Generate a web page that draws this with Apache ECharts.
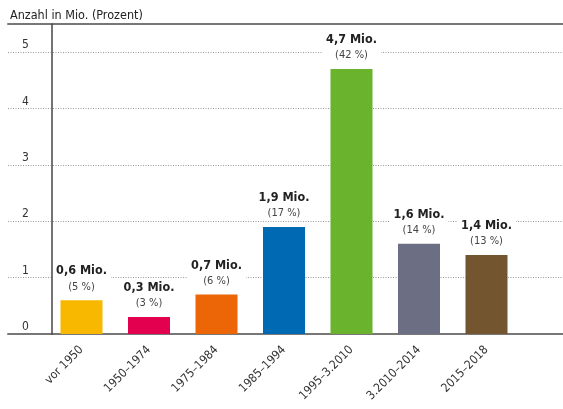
<!DOCTYPE html>
<html>
<head>
<meta charset="utf-8">
<script src="https://cdn.jsdelivr.net/npm/echarts@6/dist/echarts.min.js"></script>
<style>
  html, body { margin: 0; padding: 0; background: #fff; }
  #chart { width: 563px; height: 409px; }
</style>
</head>
<body>
<div id="chart"></div>
<script>
// Zeiträume (Baujahre) und Werte
const categories = ['vor 1950', '1950–1974', '1975–1984', '1985–1994', '1995–3.2010', '3.2010–2014', '2015–2018'];
const valuesMio = [0.6, 0.3, 0.7, 1.9, 4.7, 1.6, 1.4];
const percents = [5, 3, 6, 17, 42, 14, 13];
const barColors = ['#F9B800', '#E2004F', '#EC6608', '#0069B4', '#6AB42D', '#6C6E84', '#735630'];
const yTicks = [0, 1, 2, 3, 4, 5];

const FONT = '"DejaVu Sans Condensed", "Liberation Sans Narrow", "Noto Sans", sans-serif';
const chart = echarts.init(document.getElementById('chart'), null, { renderer: 'canvas' });

const fmt = v => String(v).replace('.', ',');

chart.setOption({
  animation: false,
  backgroundColor: '#fff',
  textStyle: { fontFamily: FONT },
  title: {
    text: 'Anzahl in Mio. (Prozent)',
    left: 5, top: 4,
    textStyle: { fontFamily: FONT, fontSize: 12.5, fontWeight: 'normal', color: '#222' }
  },
  grid: [
    // full-width frame: gridlines, tick labels, top and bottom rules
    { left: 8, right: 0, top: 24, bottom: 75 },
    // bar area
    { left: 47.75, right: 42.75, top: 24, bottom: 75 }
  ],
  xAxis: [
    { gridIndex: 0, type: 'value', min: 0, max: 1, position: 'bottom',
      axisLine: { show: true, lineStyle: { color: '#777', width: 2 } },
      axisTick: { show: false }, axisLabel: { show: false }, splitLine: { show: false } },
    { gridIndex: 0, type: 'value', min: 0, max: 1, position: 'top',
      axisLine: { show: true, lineStyle: { color: '#777', width: 2 } },
      axisTick: { show: false }, axisLabel: { show: false }, splitLine: { show: false } },
    { gridIndex: 1, type: 'category', data: categories,
      axisLine: { show: false }, axisTick: { show: false },
      axisLabel: { rotate: 45, margin: 14, color: '#333', fontSize: 12, fontFamily: FONT, interval: 0 } }
  ],
  yAxis: [
    { gridIndex: 0, type: 'value', min: 0, max: 5.5, interval: 1,
      axisLine: { show: false }, axisTick: { show: false },
      axisLabel: {
        inside: true, margin: 14, color: '#333', fontSize: 12, fontFamily: FONT,
        verticalAlign: 'bottom', padding: [0, 0, 1, 0],
        formatter: v => (yTicks.indexOf(v) >= 0 ? String(v) : '')
      },
      splitLine: { show: true, lineStyle: { color: '#999', type: [1, 1.5], width: 1 } } },
    { gridIndex: 1, type: 'value', min: 0, max: 5.5, interval: 1, offset: -4, z: 5,
      axisLine: { show: true, lineStyle: { color: '#444', width: 1.5 } },
      axisTick: { show: false }, axisLabel: { show: false }, splitLine: { show: false } }
  ],
  series: [{
    type: 'bar',
    xAxisIndex: 2, yAxisIndex: 1,
    barWidth: 42,
    data: valuesMio.map((v, i) => ({ value: v, itemStyle: { color: barColors[i] } })),
    label: {
      show: true, position: 'top', distance: 6,
      backgroundColor: '#fff', padding: [1, 4, 0, 4], lineHeight: 15,
      formatter: p => '{a|' + fmt(p.value) + ' Mio.}\n{b|(' + percents[p.dataIndex] + ' %)}',
      rich: {
        a: { fontFamily: FONT, fontSize: 12.5, fontWeight: 'bold', color: '#222', lineHeight: 16 },
        b: { fontFamily: FONT, fontSize: 11, color: '#444', lineHeight: 15 }
      }
    }
  }]
});
</script>
</body>
</html>
